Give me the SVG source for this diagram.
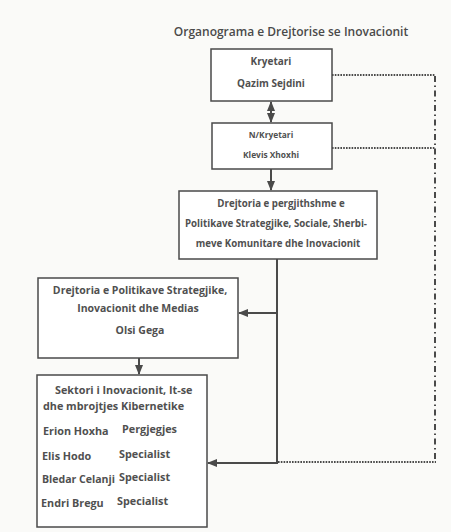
<svg xmlns="http://www.w3.org/2000/svg" width="451" height="532" viewBox="0 0 451 532">
<defs>
<marker id="ah" viewBox="0 0 10 10" refX="9" refY="5" markerWidth="5" markerHeight="5" orient="auto-start-reverse">
<path d="M0,1 L10,5 L0,9 z" fill="#4a4a4a"/>
</marker>
<style>
.box{fill:#fff;stroke:#4a4a4a;stroke-width:1.5}
.t{font-family:"Open Sans","Liberation Sans",sans-serif;font-weight:bold;fill:#505050;font-size:10px}
.c{text-anchor:middle}
.s5{font-size:10.8px}
.con{stroke:#4a4a4a;stroke-width:2;fill:none}
.dot{stroke:#4a4a4a;stroke-width:1.8;fill:none;stroke-dasharray:1.6 1.2}
.dd{stroke:#4a4a4a;stroke-width:2;fill:none;stroke-dasharray:6 3.5 1.5 3.5}
</style>
</defs>
<rect width="451" height="532" fill="#fafaf8"/>
<text class="t c" x="291" y="36" style="font-weight:600;font-size:12px;fill:#4a4a4a">Organograma e Drejtorise  se Inovacionit</text>

<g id="connectors">
<line class="con" x1="271" y1="102" x2="271" y2="122" marker-start="url(#ah)" marker-end="url(#ah)"/>
<line class="con" x1="271" y1="169" x2="271" y2="190" marker-end="url(#ah)"/>
<polyline class="con" points="277,259 277,463 208,463" marker-end="url(#ah)"/>
<line class="con" x1="277" y1="313" x2="239" y2="313" marker-end="url(#ah)"/>
<line class="con" x1="139" y1="358" x2="139" y2="374" marker-end="url(#ah)"/>
<line class="dot" x1="332" y1="75" x2="435" y2="75"/>
<line class="dot" x1="332" y1="148" x2="435" y2="148"/>
<line class="dd" x1="435" y1="76" x2="435" y2="460"/>
<line class="dot" x1="278" y1="462" x2="436" y2="462"/>
</g>

<g id="kryetari">
<rect class="box" x="211" y="49" width="121" height="52"/>
<text class="t c" x="271" y="65">Kryetari</text>
<text class="t c" x="271" y="87">Qazim Sejdini</text>
</g>

<g id="nkryetari">
<rect class="box" x="212" y="123" width="120" height="46"/>
<text class="t c" x="271" y="138" style="font-size:8.4px">N/Kryetari</text>
<text class="t c" x="271" y="158" style="font-size:8.4px">Klevis Xhoxhi</text>
</g>

<g id="drejtoria-pergjithshme">
<rect class="box" x="179" y="191" width="198" height="68"/>
<text class="t c" x="281" y="207" style="font-size:9.7px">Drejtoria e pergjithshme  e</text>
<text class="t c" x="276" y="227" style="font-size:9.7px">Politikave Strategjike, Sociale, Sherbi-</text>
<text class="t c" x="278" y="247" style="font-size:9.7px">meve Komunitare dhe Inovacionit</text>
</g>

<g id="drejtoria-politikave">
<rect class="box" x="38" y="278" width="200" height="80"/>
<text class="t c" x="140" y="294" style="font-size:10.5px">Drejtoria  e Politikave Strategjike,</text>
<text class="t c" x="138" y="312" style="font-size:10.5px">Inovacionit  dhe Medias</text>
<text class="t c" x="140" y="334" style="font-size:10.5px">Olsi Gega</text>
</g>

<g id="sektori">
<rect class="box" x="37" y="375" width="170" height="152"/>
<text class="t s5" x="55" y="394">Sektori i Inovacionit, It-se</text>
<text class="t s5" x="43" y="410">dhe mbrojtjes Kibernetike</text>
<text class="t s5" x="43" y="435">Erion Hoxha</text>
<text class="t s5" x="122" y="433">Pergjegjes</text>
<text class="t s5" x="42" y="460">Elis Hodo</text>
<text class="t s5" x="119" y="458">Specialist</text>
<text class="t s5" x="42" y="483" textLength="73" lengthAdjust="spacingAndGlyphs">Bledar Celanji</text>
<text class="t s5" x="119" y="481">Specialist</text>
<text class="t s5" x="41" y="507">Endri Bregu</text>
<text class="t s5" x="117" y="505">Specialist</text>
</g>
</svg>
